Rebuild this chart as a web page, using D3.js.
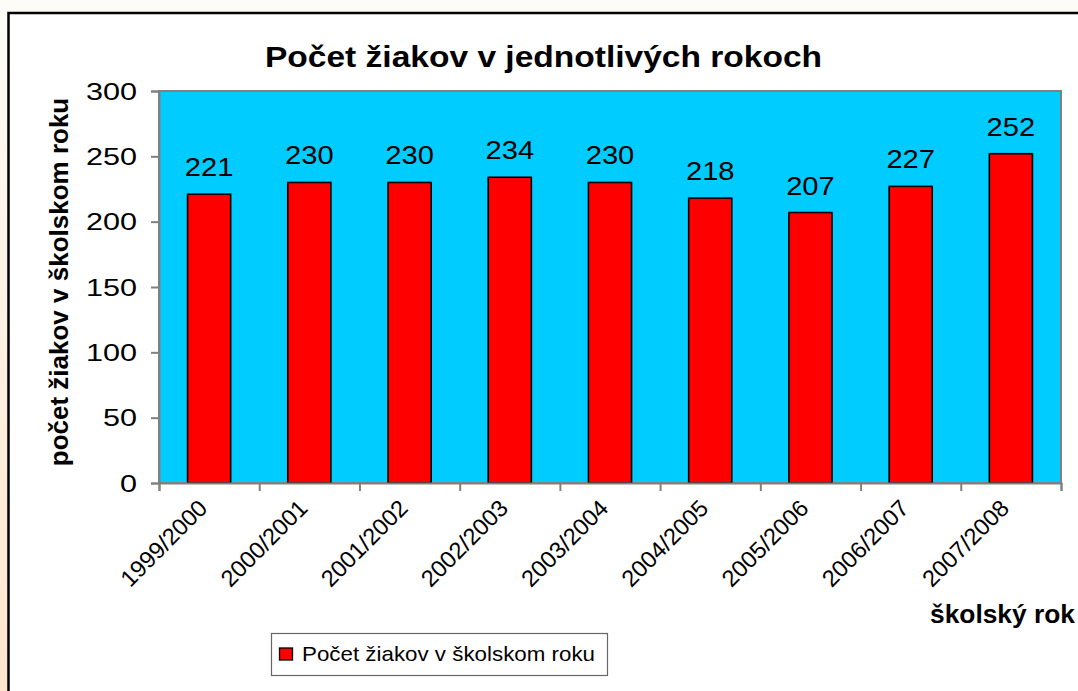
<!DOCTYPE html>
<html>
<head>
<meta charset="utf-8">
<script src="https://cdn.jsdelivr.net/npm/d3@7"></script>
<style>
  html, body { margin: 0; padding: 0; background: #fdfcf7; }
  svg { display: block; font-family: Arial, "Liberation Sans", sans-serif; }
</style>
</head>
<body>
<svg id="chart" width="1078" height="691"></svg>
<script>
const categories = ["1999/2000","2000/2001","2001/2002","2002/2003","2003/2004","2004/2005","2005/2006","2006/2007","2007/2008"];
const values = [221, 230, 230, 234, 230, 218, 207, 227, 252];
const yTicks = [0, 50, 100, 150, 200, 250, 300];
const titleText = "Počet žiakov v jednotlivých rokoch";
const yTitle = "počet žiakov v školskom roku";
const xTitle = "školský rok";
const seriesName = "Počet žiakov v školskom roku";

const svg = d3.select("#chart");

// page background gradient
const defs = svg.append("defs");
const g1 = defs.append("linearGradient").attr("id","bg").attr("x1",0).attr("y1",0).attr("x2",0).attr("y2",1);
g1.append("stop").attr("offset","0%").attr("stop-color","#fdfcf7");
g1.append("stop").attr("offset","100%").attr("stop-color","#fde5cd");
svg.append("rect").attr("width",1078).attr("height",691).attr("fill","url(#bg)");

// chart frame (extends beyond right/bottom)
svg.append("rect").attr("x",8.5).attr("y",13).attr("width",1100).attr("height",700)
  .attr("fill","#ffffff").attr("stroke","#000").attr("stroke-width",2.5);

const plot = {left:159, right:1061, top:91, bottom:483};

const x = d3.scaleBand().domain(categories).range([plot.left, plot.right]).padding(0);
const xEdge = d3.scaleLinear().domain([0, categories.length]).range([plot.left, plot.right]);
const y = d3.scaleLinear().domain([0, 300]).range([plot.bottom, plot.top]);

// plot area
svg.append("rect").attr("x",plot.left).attr("y",plot.top)
  .attr("width",plot.right-plot.left).attr("height",plot.bottom-plot.top)
  .attr("fill","#00ccff").attr("stroke","#808080").attr("stroke-width",2);

// bars
const bw = x.bandwidth()*0.43;
svg.append("g").selectAll("rect").data(values).join("rect")
  .attr("x",(d,i)=>x(categories[i]) + (x.bandwidth()-bw)/2)
  .attr("y",d=>y(d))
  .attr("width",bw)
  .attr("height",d=>y(0)-y(d))
  .attr("fill","#ff0000").attr("stroke","#000").attr("stroke-width",1.6);

// value labels
svg.append("g").selectAll("g").data(values).join("g")
  .attr("transform",(d,i)=>`translate(${x(categories[i])+x.bandwidth()/2},${y(d)-18}) scale(1.12,1)`)
  .append("text").attr("text-anchor","middle").attr("font-size",26).attr("fill","#000")
  .text(d=>d);

// y axis
const yAxis = svg.append("g").attr("transform",`translate(${plot.left},0)`)
  .call(d3.axisLeft(y).tickValues(yTicks).tickSize(8).tickPadding(0));
yAxis.select(".domain").attr("stroke","#808080").attr("stroke-width",2);
yAxis.selectAll(".tick line").attr("stroke","#808080").attr("stroke-width",2);
yAxis.selectAll(".tick text").attr("font-size",23).attr("fill","#000")
  .attr("font-family","Arial, 'Liberation Sans', sans-serif")
  .attr("x",-22/1.33).attr("dy","0.36em").attr("transform","scale(1.33,1)");

// x axis ticks at band edges
const xAxis = svg.append("g").attr("transform",`translate(0,${plot.bottom})`)
  .call(d3.axisBottom(xEdge).tickValues(d3.range(categories.length+1)).tickSize(8).tickFormat(""));
xAxis.select(".domain").attr("stroke","#808080").attr("stroke-width",2);
xAxis.selectAll(".tick line").attr("stroke","#808080").attr("stroke-width",2);

// x tick labels
svg.append("g").selectAll("text").data(categories).join("text")
  .attr("transform",d=>`translate(${x(d)+x.bandwidth()/2-12},${plot.bottom+15}) rotate(-45)`)
  .attr("text-anchor","end").attr("dy","0.7em").attr("font-size",23.5).attr("fill","#000")
  .text(d=>d);

// title
svg.append("text").attr("x",543.5).attr("y",67).attr("text-anchor","middle")
  .attr("font-size",29).attr("font-weight","bold").attr("fill","#000")
  .attr("textLength",557).attr("lengthAdjust","spacingAndGlyphs")
  .text(titleText);

// y axis title
svg.append("text").attr("transform","translate(68,282) rotate(-90)").attr("text-anchor","middle")
  .attr("font-size",26).attr("font-weight","bold").attr("fill","#000")
  .text(yTitle);

// x axis title
svg.append("text").attr("x",1075).attr("y",623).attr("text-anchor","end")
  .attr("font-size",25).attr("font-weight","bold").attr("fill","#000")
  .attr("textLength",145).attr("lengthAdjust","spacingAndGlyphs")
  .text(xTitle);

// legend
const leg = svg.append("g");
leg.append("rect").attr("x",271.5).attr("y",633.5).attr("width",336).attr("height",42)
  .attr("fill","#fff").attr("stroke","#666").attr("stroke-width",1.2);
leg.append("rect").attr("x",279.5).attr("y",648).attr("width",13).attr("height",12)
  .attr("fill","#ff0000").attr("stroke","#000").attr("stroke-width",1.3);
leg.append("text").attr("x",302).attr("y",661).attr("font-size",21).attr("fill","#000")
  .attr("textLength",293).attr("lengthAdjust","spacingAndGlyphs")
  .text(seriesName);
</script>
</body>
</html>
